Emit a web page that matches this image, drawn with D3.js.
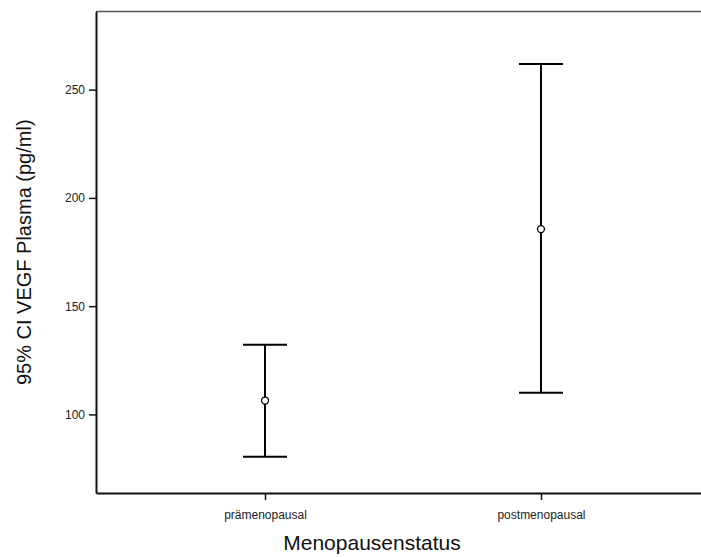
<!DOCTYPE html>
<html>
<head>
<meta charset="utf-8">
<script src="https://cdn.jsdelivr.net/npm/d3@7"></script>
<style>
  body { margin: 0; background: white; }
  text { font-family: "Liberation Sans", Arial, sans-serif; }
</style>
</head>
<body>
<div id="chart-area"></div>
<script>
// data
const categories = ["prämenopausal", "postmenopausal"]
const means = [106.4, 185.6]
const lower = [80.5, 110.0]
const upper = [132.2, 261.8]
const yTicks = [100, 150, 200, 250]

const W = 701, H = 557
const margin = {left: 96, top: 11.5, bottom: 64}
const plotBottom = H - margin.bottom

const svg = d3.select("#chart-area").append("svg")
    .attr("width", W)
    .attr("height", H)

const x = d3.scalePoint()
    .domain(categories)
    .range([margin.left, 710])
    .padding(0.6125)

const y = d3.scaleLinear()
    .domain([63.7, 286.1])
    .range([plotBottom, margin.top])

// frame: grey top line, black left & bottom
svg.append("line")
    .attr("x1", margin.left).attr("x2", W)
    .attr("y1", margin.top).attr("y2", margin.top)
    .attr("stroke", "#555").attr("stroke-width", 1.3)

const fontFam = "Liberation Sans, Arial, sans-serif"

// Y axis
const yAxis = svg.append("g")
    .attr("transform", `translate(${margin.left}, 0)`)
    .attr("font-family", fontFam)
    .call(d3.axisLeft(y).tickValues(yTicks).tickSize(7).tickPadding(4).tickSizeOuter(0))
yAxis.select(".domain").attr("stroke", "#111").attr("stroke-width", 2)
yAxis.selectAll(".tick line").attr("stroke", "#111").attr("stroke-width", 1.5)
yAxis.selectAll("text").attr("font-size", "12px").attr("fill", "#222")

// X axis
const xAxis = svg.append("g")
    .attr("transform", `translate(0, ${plotBottom})`)
    .attr("font-family", fontFam)
    .call(d3.axisBottom(x).tickSize(7).tickPadding(10).tickSizeOuter(0))
xAxis.select(".domain").attr("stroke", "#111").attr("stroke-width", 2)
xAxis.selectAll(".tick line").attr("stroke", "#111").attr("stroke-width", 1.5)
xAxis.selectAll("text").attr("font-size", "12px").attr("fill", "#222")

// labels
svg.append("text")
    .attr("x", 372)
    .attr("y", 550)
    .attr("font-size", "21px")
    .attr("text-anchor", "middle")
    .attr("fill", "#111")
    .text("Menopausenstatus")

svg.append("text")
    .attr("transform", `translate(31, ${(margin.top + plotBottom) / 2}) rotate(-90)`)
    .attr("font-size", "20px")
    .attr("text-anchor", "middle")
    .attr("fill", "#111")
    .text("95% CI VEGF Plasma (pg/ml)")

// error bars
const capHalf = 22
const bars = svg.append("g")
categories.forEach((c, i) => {
    const cx = x(c)
    bars.append("line")
        .attr("x1", cx).attr("x2", cx)
        .attr("y1", y(lower[i])).attr("y2", y(upper[i]))
        .attr("stroke", "black").attr("stroke-width", 2)
    ;[lower[i], upper[i]].forEach(v => {
        bars.append("line")
            .attr("x1", cx - capHalf).attr("x2", cx + capHalf)
            .attr("y1", y(v)).attr("y2", y(v))
            .attr("stroke", "black").attr("stroke-width", 2)
    })
    bars.append("circle")
        .attr("cx", cx).attr("cy", y(means[i]))
        .attr("r", 3.5)
        .attr("fill", "white")
        .attr("stroke", "black").attr("stroke-width", 1.3)
})
</script>
</body>
</html>
